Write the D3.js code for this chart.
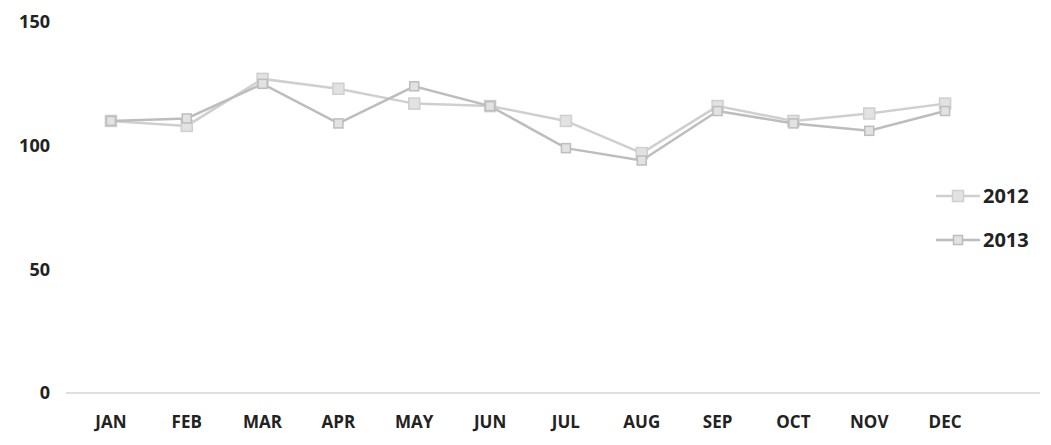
<!DOCTYPE html>
<html>
<head>
<meta charset="utf-8">
<script src="https://cdn.jsdelivr.net/npm/d3@7"></script>
<style>
  body { margin: 0; background: #fff; }
  text { font-family: "Open Sans", sans-serif; font-weight: bold; fill: #222; }
</style>
</head>
<body>
<div id="chart"></div>
<script>
// chart data
const months = ["JAN", "FEB", "MAR", "APR", "MAY", "JUN", "JUL", "AUG", "SEP", "OCT", "NOV", "DEC"];
const values2012 = [110, 108, 127, 123, 117, 116, 110, 97, 116, 110, 113, 117];
const values2013 = [110, 111, 125, 109, 124, 116, 99, 94, 114, 109, 106, 114];
const yTicks = [0, 50, 100, 150];

const series = [
    { name: "2012", values: values2012, color: "#cfcfcf", size: 11 },
    { name: "2013", values: values2013, color: "#bdbdbd", size: 9 }
];

const width = 1051, height = 445;

let svg = d3.select("#chart").append("svg")
    .attr("width", width)
    .attr("height", height);

let x = d3.scaleBand().domain(months).range([73, 983]);
let y = d3.scaleLinear().domain([0, 150]).range([393, 22]);

// baseline
svg.append("line")
    .attr("x1", 66).attr("x2", 1040)
    .attr("y1", y(0)).attr("y2", y(0))
    .attr("stroke", "#d4d4d4")
    .attr("stroke-width", 1.5);

// y tick labels
svg.selectAll(".ytick")
    .data(yTicks)
    .enter().append("text")
    .attr("class", "ytick")
    .attr("x", 50)
    .attr("y", d => y(d))
    .attr("dy", "0.35em")
    .attr("text-anchor", "end")
    .style("font-size", "18px")
    .text(d => d);

// x labels
svg.selectAll(".xtick")
    .data(months)
    .enter().append("text")
    .attr("class", "xtick")
    .attr("x", d => x(d) + x.bandwidth() / 2)
    .attr("y", 428)
    .attr("text-anchor", "middle")
    .style("font-size", "17px")
    .text(d => d);

let line = d3.line()
    .x((d, i) => x(months[i]) + x.bandwidth() / 2)
    .y(d => y(d));

series.forEach(s => {
    let g = svg.append("g").attr("class", "series");

    g.append("path")
        .datum(s.values)
        .attr("fill", "none")
        .attr("stroke", s.color)
        .attr("stroke-width", 2.5)
        .attr("d", line);

    g.selectAll("rect")
        .data(s.values)
        .enter().append("rect")
        .attr("x", (d, i) => x(months[i]) + x.bandwidth() / 2 - s.size / 2)
        .attr("y", d => y(d) - s.size / 2)
        .attr("width", s.size)
        .attr("height", s.size)
        .attr("fill", "#e2e2e2")
        .attr("stroke", s.color)
        .attr("stroke-width", 1.5);
});

// legend
let legend = svg.selectAll(".legend")
    .data(series)
    .enter().append("g")
    .attr("class", "legend")
    .attr("transform", (d, i) => "translate(936," + (196 + i * 44) + ")");

legend.append("line")
    .attr("x1", 0).attr("x2", 44)
    .attr("stroke", d => d.color)
    .attr("stroke-width", 2.5);

legend.append("rect")
    .attr("x", d => 22 - d.size / 2)
    .attr("y", d => -d.size / 2)
    .attr("width", d => d.size)
    .attr("height", d => d.size)
    .attr("fill", "#e2e2e2")
    .attr("stroke", d => d.color)
    .attr("stroke-width", 1.5);

legend.append("text")
    .attr("x", 47)
    .attr("dy", "0.35em")
    .style("font-size", "20px")
    .text(d => d.name);
</script>
</body>
</html>
